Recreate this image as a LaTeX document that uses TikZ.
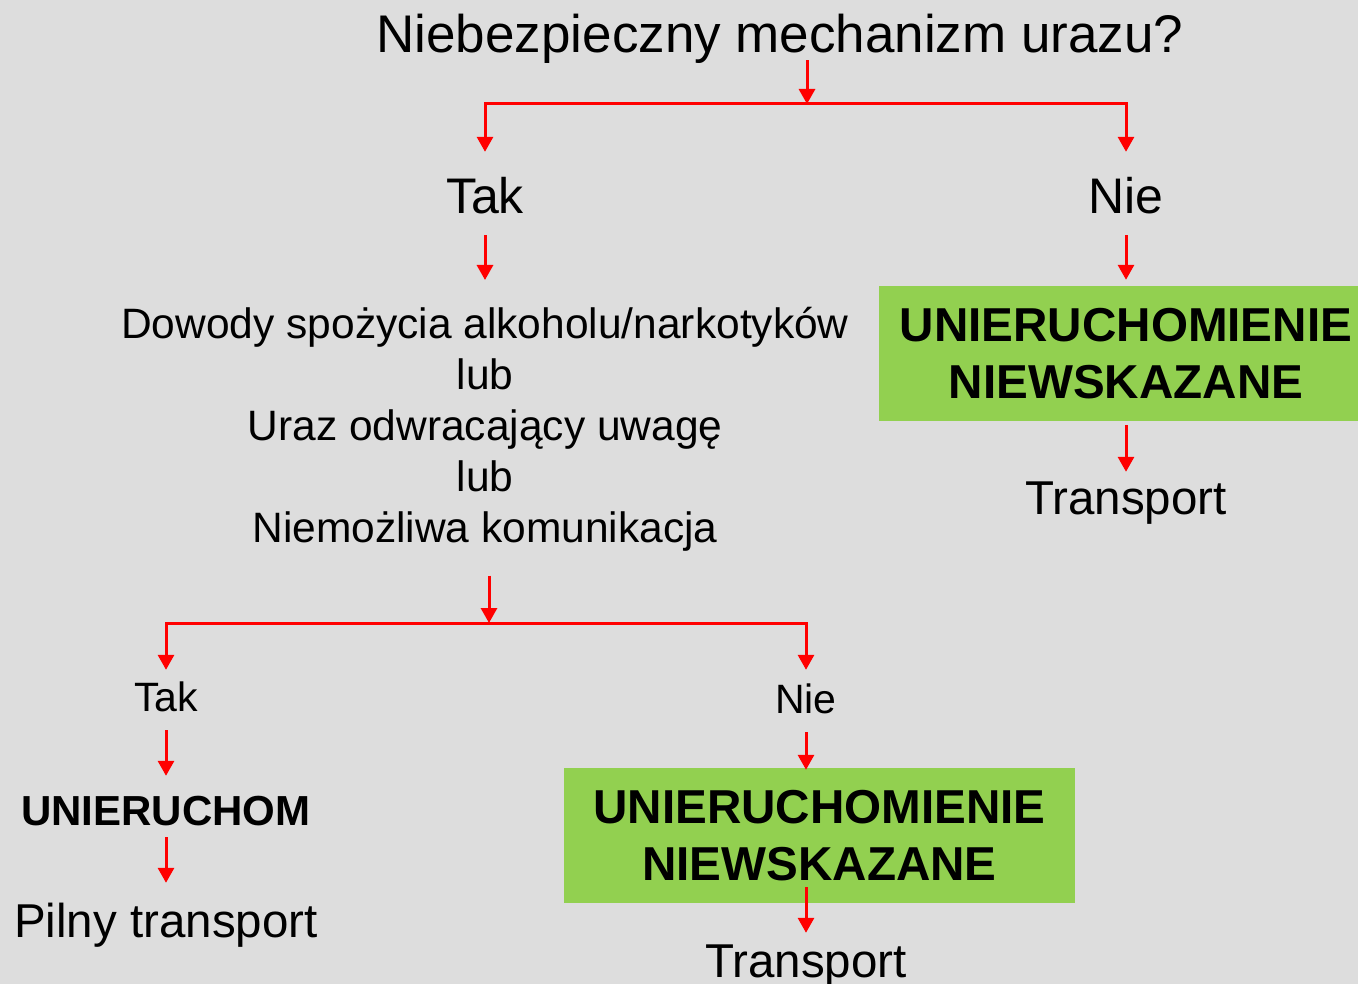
\documentclass[tikz,border=0pt]{standalone}
\usepackage{fontspec}
\setmainfont{Liberation Sans}
\usetikzlibrary{arrows.meta}
\definecolor{bgcol}{HTML}{DDDDDD}
\definecolor{boxgreen}{HTML}{92D050}
\tikzset{
  arr/.style={draw=red, line width=3pt, line join=miter, -{Triangle[width=16pt,length=15pt]}},
  titletxt/.style={inner sep=0pt, anchor=base, font=\fontsize{53}{64}\selectfont, text height=38pt, text depth=0pt},
  bigtxt/.style={inner sep=0pt, anchor=base, font=\fontsize{50}{60}\selectfont, text height=36pt, text depth=0pt},
  midtxt/.style={inner sep=0pt, anchor=base, font=\fontsize{47.5}{57}\selectfont, text height=34pt, text depth=0pt},
  smalltxt/.style={inner sep=0pt, anchor=base, font=\fontsize{41}{49}\selectfont, text height=29pt, text depth=0pt},
  boldtxt/.style={inner sep=0pt, anchor=base, font=\bfseries\fontsize{42}{50}\selectfont, text height=30pt, text depth=0pt},
  greenbox/.style={fill=boxgreen, inner sep=0pt, align=center, minimum width=#1, minimum height=135pt,
    font=\bfseries\fontsize{47.6}{57}\selectfont}
}
\begin{document}
\begin{tikzpicture}[x=1pt, y=-1pt]
    % Background
    \fill[bgcol] (0,0) rectangle (1358,984);
    \useasboundingbox (0,0) rectangle (1358,984);

    % Question and first split
    \node[titletxt] (title) at (780,53) {Niebezpieczny mechanizm urazu?};
    \coordinate (split1) at (807,104);
    \node[bigtxt] (tak1) at (485,214) {Tak};
    \node[bigtxt] (nie1) at (1126,214) {Nie};

    % Left branch: conditions
    \node[inner sep=0pt, anchor=north, align=center, font=\fontsize{42.5}{51}\selectfont]
      (dowody) at (485,307) {Dowody spożycia alkoholu/narkotyków\\lub\\Uraz odwracający uwagę\\lub\\Niemożliwa komunikacja};

    % Right branch
    \node[greenbox=494pt] (box1) at (1126,353.5) {UNIERUCHOMIENIE\\NIEWSKAZANE};
    \node[midtxt] (trans1) at (1126,514) {Transport};

    % Second split
    \coordinate (split2) at (489,623);
    \node[smalltxt] (tak2) at (166,711) {Tak};
    \node[smalltxt] (nie2) at (806,713) {Nie};
    \node[boldtxt] (unier) at (166,825) {UNIERUCHOM};
    \node[midtxt] (pilny) at (166,937) {Pilny transport};
    \node[greenbox=511pt] (box2) at (819.5,835.5) {UNIERUCHOMIENIE\\NIEWSKAZANE};
    \node[midtxt] (trans2) at (806,977) {Transport};

    % Arrows of the first split
    \draw[arr, shorten <=7pt] (split1 |- title.south) -- (split1);
    \draw[arr, shorten >=26pt] (split1) -| (tak1.north);
    \draw[arr, shorten >=26pt] (split1) -| (nie1.north);
    \draw[arr, shorten <=21pt, shorten >=27pt] (tak1.south) -- (dowody.north);
    \draw[arr, shorten <=21pt, shorten >=6pt] (nie1.south) -- (box1.north);
    \draw[arr, shorten <=4pt, shorten >=8pt] (box1.south) -- (trans1.north);

    % Arrows of the second split
    \draw[arr, shorten <=24pt] (split2 |- dowody.south) -- (split2);
    \draw[arr, shorten >=12pt] (split2) -| (tak2.north);
    \draw[arr, shorten >=14pt] (split2) -| (nie2.north);
    \draw[arr, shorten <=19pt, shorten >=19pt] (tak2.south) -- (unier.north);
    \draw[arr, shorten <=12pt, shorten >=20pt] (unier.south) -- (pilny.north);
    \draw[arr, shorten <=19pt, shorten >=-2pt] (nie2.south) -- (nie2.south |- box2.north);
    \draw[arr, shorten <=-16pt, shorten >=10pt] (trans2 |- box2.south) -- (trans2.north);
\end{tikzpicture}
\end{document}
